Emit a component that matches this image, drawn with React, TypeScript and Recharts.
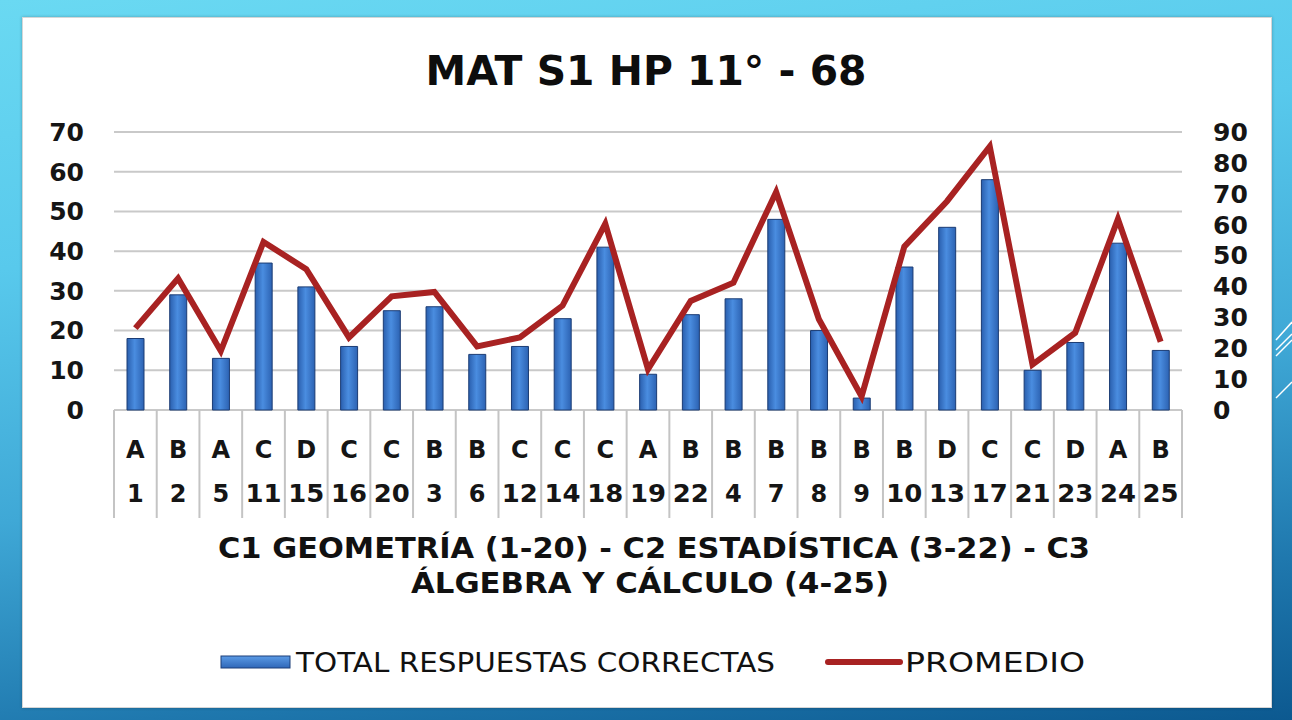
import React from 'react';
import {
  ComposedChart, Bar, Line, XAxis, YAxis, CartesianGrid, Legend, Customized,
} from 'recharts';

const letters = ['A','B','A','C','D','C','C','B','B','C','C','C','A','B','B','B','B','B','B','D','C','C','D','A','B'];
const questions = [1,2,5,11,15,16,20,3,6,12,14,18,19,22,4,7,8,9,10,13,17,21,23,24,25];
const totals = [18,29,13,37,31,16,25,26,14,16,23,41,9,24,28,48,20,3,36,46,58,10,17,42,15];
const promedio = [26.5,42.6,19.1,54.4,45.6,23.5,36.8,38.2,20.6,23.5,33.8,60.3,13.2,35.3,41.2,70.6,29.4,4.4,52.9,67.6,85.3,14.7,25.0,61.8,22.1];
const leftTicks = [0,10,20,30,40,50,60,70];
const rightTicks = [0,10,20,30,40,50,60,70,80,90];

const TITLE = 'MAT S1 HP 11° - 68';
const XTITLE_1 = 'C1 GEOMETRÍA (1-20) - C2 ESTADÍSTICA (3-22) - C3';
const XTITLE_2 = 'ÁLGEBRA Y CÁLCULO (4-25)';
const SERIES_BAR = 'TOTAL RESPUESTAS CORRECTAS';
const SERIES_LINE = 'PROMEDIO';

const data = questions.map((q, i) => ({
  key: `${letters[i]}|${q}`,
  total: totals[i],
  promedio: promedio[i],
}));

const FONT = '"DejaVu Sans", Lato, sans-serif';
const RED = '#a82222';

const CatTick = (props: any) => {
  const { x, y, payload, index, width, visibleTicksCount } = props;
  const n = visibleTicksCount || data.length;
  const bw = (width || 1068) / n;
  const [letter, num] = String(payload.value).split('|');
  const h = 108;
  return (
    <g>
      <line x1={x - bw / 2} x2={x - bw / 2} y1={y} y2={y + h} stroke="#c4c4c4" strokeWidth={2} />
      {index === n - 1 && (
        <line x1={x + bw / 2} x2={x + bw / 2} y1={y} y2={y + h} stroke="#c4c4c4" strokeWidth={2} />
      )}
      <text x={x} y={y + 48} textAnchor="middle" fontFamily={FONT} fontWeight={700} fontSize={24} fill="#151515">{letter}</text>
      <text x={x} y={y + 92} textAnchor="middle" fontFamily={FONT} fontWeight={700} fontSize={24} fill="#151515"
        {...(num.length > 1 ? { textLength: 36, lengthAdjust: 'spacingAndGlyphs' } : {})}>{num}</text>
    </g>
  );
};

const XTitle = (props: any) => {
  const vb = props.viewBox || {};
  const cx = (vb.x ?? 114) + (vb.width ?? 1068) / 2 + 6;
  const top = (vb.y ?? 410) + 148;
  return (
    <g>
      <text x={cx} y={top} textAnchor="middle" fontFamily={FONT} fontWeight={700} fontSize={29} fill="#111"
        textLength={872} lengthAdjust="spacingAndGlyphs">{XTITLE_1}</text>
      <text x={cx - 4} y={top + 35} textAnchor="middle" fontFamily={FONT} fontWeight={700} fontSize={29} fill="#111"
        textLength={478} lengthAdjust="spacingAndGlyphs">{XTITLE_2}</text>
    </g>
  );
};

const Title = () => (
  <text x={646} y={85} textAnchor="middle" fontFamily={FONT} fontWeight={700} fontSize={41} fill="#0d0d0d"
    textLength={441} lengthAdjust="spacingAndGlyphs">{TITLE}</text>
);

const LegendContent = (props: any) => {
  const payload = props.payload || [];
  const barItem = payload.find((p: any) => p.dataKey === 'total');
  const lineItem = payload.find((p: any) => p.dataKey === 'promedio');
  return (
    <svg width={1292} height={40} style={{ display: 'block' }}>
      <defs>
        <linearGradient id="legBar" x1="0" y1="0" x2="0" y2="1">
          <stop offset="0%" stopColor="#5b9be6" />
          <stop offset="100%" stopColor="#2f67b8" />
        </linearGradient>
      </defs>
      <rect x={221} y={14} width={69} height={12} fill="url(#legBar)" stroke="#1d3f78" strokeWidth={1} />
      <text x={296} y={30} fontFamily={FONT} fontSize={26} fill="#111" textLength={479} lengthAdjust="spacingAndGlyphs">
        {barItem ? barItem.value : SERIES_BAR}
      </text>
      <line x1={828} x2={900} y1={20} y2={20} stroke={RED} strokeWidth={6} strokeLinecap="round" />
      <text x={905} y={30} fontFamily={FONT} fontSize={26} fill="#111" textLength={180} lengthAdjust="spacingAndGlyphs">
        {lineItem ? lineItem.value : SERIES_LINE}
      </text>
    </svg>
  );
};

export default function App() {
  return (
    <div style={{ position: 'absolute', left: 0, top: 0, width: 1292, height: 720, overflow: 'hidden',
      background: 'linear-gradient(172deg, #6ad9f2 0%, #58c9ec 30%, #3fa8d6 58%, #1f78ae 82%, #0c5990 100%)' }}>
      <svg width={1292} height={720} style={{ position: 'absolute', left: 0, top: 0 }}>
        <line x1={1276} y1={340} x2={1292} y2={322} stroke="#fff" strokeWidth={1.5} />
        <line x1={1276} y1={350} x2={1292} y2={334} stroke="#fff" strokeWidth={1.5} />
        <line x1={1276} y1={356} x2={1292} y2={340} stroke="#fff" strokeWidth={1.5} />
        <line x1={1276} y1={398} x2={1292} y2={382} stroke="#fff" strokeWidth={1.5} />
      </svg>
      <div style={{ position: 'absolute', left: 22, top: 17, width: 1248, height: 689, background: '#fff',
        border: '1px solid #d6d6d6', boxShadow: '0 0 3px rgba(0,0,0,0.25)' }} />
      <div style={{ position: 'absolute', left: 0, top: 0 }}>
        <ComposedChart width={1292} height={720} data={data}
          margin={{ top: 132, right: 10, left: 14, bottom: 200 }} barCategoryGap="30%">
          <defs>
            <linearGradient id="barGrad" x1="0" y1="0" x2="1" y2="0">
              <stop offset="0%" stopColor="#2a5fae" />
              <stop offset="45%" stopColor="#4a8de0" />
              <stop offset="100%" stopColor="#2c62b2" />
            </linearGradient>
          </defs>
          <Customized component={Title} />
          <CartesianGrid vertical={false} stroke="#c9c9c9" strokeWidth={2} yAxisId="left" />
          <XAxis dataKey="key" interval={0} height={110} tickLine={false} axisLine={false} tickSize={0} tickMargin={0}
            tick={<CatTick />} label={<XTitle />} />
          <YAxis yAxisId="left" orientation="left" domain={[0, 70]} ticks={leftTicks} width={100} interval={0}
            tickLine={false} axisLine={false} tickSize={0} tickMargin={30}
            tick={{ fontFamily: FONT, fontWeight: 700, fontSize: 25, fill: '#151515' }} />
          <YAxis yAxisId="right" orientation="right" domain={[0, 90]} ticks={rightTicks} width={100} interval={0}
            tickLine={false} axisLine={false} tickSize={0} tickMargin={31}
            tick={{ fontFamily: FONT, fontWeight: 700, fontSize: 25, fill: '#151515', textAnchor: 'start' }} />
          <Bar yAxisId="left" dataKey="total" name={SERIES_BAR} fill="url(#barGrad)" stroke="#1b3c74" strokeWidth={1}
            barSize={17} isAnimationActive={false} />
          <Line yAxisId="right" dataKey="promedio" name={SERIES_LINE} stroke={RED} strokeWidth={6} dot={false}
            activeDot={false} type="linear" isAnimationActive={false} />
          <Legend layout="horizontal" verticalAlign="middle" align="center" content={<LegendContent />}
            wrapperStyle={{ position: 'absolute', left: 0, top: 642, width: 1292, height: 40 }} />
        </ComposedChart>
      </div>
    </div>
  );
}
